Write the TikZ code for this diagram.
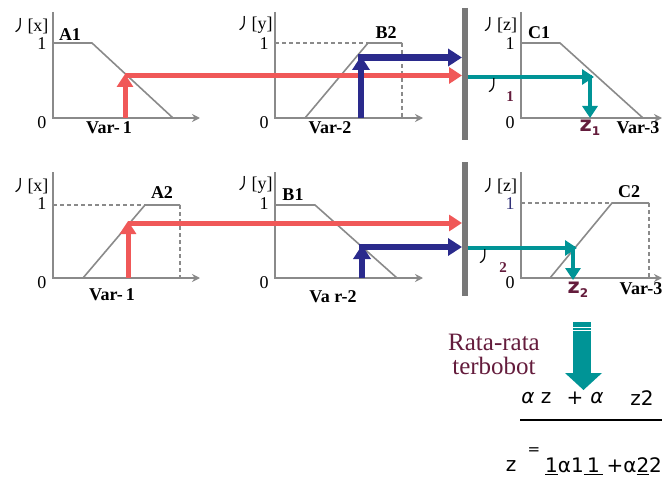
\documentclass[tikz,border=0pt]{standalone}
\usepackage{fontspec}
\setmainfont{Liberation Serif}
\newfontfamily\cjk{Noto Sans CJK SC}
\newfontfamily\sansf{DejaVu Sans}
\usetikzlibrary{arrows.meta}
\definecolor{axgray}{RGB}{138,138,138}
\definecolor{bargray}{RGB}{120,120,120}
\definecolor{redc}{RGB}{240,88,88}
\definecolor{bluec}{RGB}{42,42,140}
\definecolor{tealc}{RGB}{0,148,150}
\definecolor{maroon}{RGB}{100,28,60}
\definecolor{navyc}{RGB}{50,50,120}

\begin{document}
\begin{tikzpicture}[x=1pt,y=-1pt,
  axis/.style={draw=axgray,line width=2pt,-{Stealth[length=8pt,width=8pt]}},
  mf/.style={draw=axgray,line width=1.6pt},
  guide/.style={draw=axgray,line width=1.3pt,dash pattern=on 4pt off 3pt},
  lab/.style={inner sep=0pt,font=\fontsize{18}{20}\selectfont},
  setname/.style={inner sep=0pt,font=\fontsize{18}{20}\selectfont\bfseries},
  redarr/.style={draw=redc,line width=5pt,-{Triangle[length=13pt,width=16pt]}},
  bluearr/.style={draw=bluec,line width=6.5pt,-{Triangle[length=14pt,width=17pt]}},
  tealarr/.style={draw=tealc,line width=4pt,-{Triangle[length=12pt,width=15pt]}},
  outz/.style={inner sep=0pt,text=maroon,font=\fontsize{21}{22}\sansf\bfseries},
  formula/.style={inner sep=0pt,font=\fontsize{20}{22}\sansf}]
\useasboundingbox (0,0) rectangle (662,487);

% axes of the six graphs
\foreach \ox/\oy/\xe/\oc [count=\i] in {53/118/200/black,275/118/423/black,521/118/662/black,
    53/278/200/black,275/278/423/black,521/278/662/navyc}{
  \draw[axis] (\ox,\oy-106) -- (\ox,\oy) -- (\xe,\oy);
  \node[lab] (zero\i) at (\ox-11,\oy+5) {0};
  \node[lab,text=\oc] (one\i) at (\ox-11,\oy-74) {1};
}
\foreach \x/\y/\v [count=\i] in {30/26/x,254/25/y,499/25/z,30/186/x,254/185/y,499/186/z}
  \node[lab] (mu\i) at (\x,\y) {{\cjk\fontsize{16}{16}\selectfont 丿}[\v]};

% membership functions
\draw[mf] (53,43) -- (92,43) -- (173,118);
\draw[mf] (305,118) -- (368,43) -- (402,43);
\draw[guide] (275,43) -- (368,43) (402,43) -- (402,118);
\draw[mf] (521,43) -- (560,43) -- (643,118);
\draw[mf] (83,278) -- (145,205) -- (180,205);
\draw[guide] (53,205) -- (145,205) (180,205) -- (180,278);
\draw[mf] (275,205) -- (315,205) -- (397,278);
\draw[mf] (550,278) -- (612,203) -- (649,203);
\draw[guide] (521,203) -- (612,203) (649,203) -- (649,278);

\node[setname] (A1) at (70,35) {A1};
\node[setname] (B2) at (386,33) {B2};
\node[setname] (C1) at (539,33) {C1};
\node[setname] (A2) at (162,193) {A2};
\node[setname] (B1) at (293,195) {B1};
\node[setname] (C2) at (629,192) {C2};

\node[setname] (var1a) at (109,128) {Var-\,1};
\node[setname] (var2a) at (330,128) {Var-2};
\node[setname] (var3a) at (638,128) {Var-3};
\node[setname] (var1b) at (112,295) {Var-\,1};
\node[setname] (var2b) at (333,297) {Va r-2};
\node[setname] (var3b) at (641,289) {Var-3};

% implication bars
\draw[bargray,line width=6pt] (465,8) coordinate (barA) -- (465,140);
\draw[bargray,line width=6pt] (465,162) coordinate (barB) -- (465,296);

% rule 1
\coordinate (in1) at (125,118);
\coordinate (in2) at (361,118);
\draw[redarr] (in1) -- (125,74);
\draw[redarr] (125,75.5) -- (462,75.5);
\draw[bluearr] (in2) -- (361,56);
\draw[bluearr] (358,57.5) -- (462,57.5);
\draw[tealarr] (468,77) -- (594,77);
\draw[tealarr] (590,75) -- (590,118);
\node[lab] (al1) at (493,86) {\cjk\fontsize{16}{16}\selectfont 丿};
\node[lab,text=maroon,font=\fontsize{15}{15}\selectfont\bfseries] (al1n) at (510,97) {1};
\node[outz] (z1) at (590,128) {z\raisebox{-4pt}{\fontsize{12}{12}\selectfont 1}};

% rule 2
\coordinate (in3) at (128,278);
\coordinate (in4) at (362,278);
\draw[redarr] (in3) -- (128,221);
\draw[redarr] (128,223) -- (462,223);
\draw[bluearr] (in4) -- (362,245);
\draw[bluearr] (359,247) -- (462,247);
\draw[tealarr] (468,248) -- (577,248);
\draw[tealarr] (573,246) -- (573,280);
\node[lab] (al2) at (484,257) {\cjk\fontsize{16}{16}\selectfont 丿};
\node[lab,text=maroon,font=\fontsize{15}{15}\selectfont\bfseries] (al2n) at (503,268) {2};
\node[outz] (z2) at (578,290) {z\raisebox{-4pt}{\fontsize{12}{12}\selectfont 2}};

% weighted average
\node[lab,text=maroon,align=center,font=\fontsize{25}{24}\selectfont] (wavg) at (494,354)
  {Rata-rata\\terbobot};
\fill[tealc] (573,322) rectangle (591,373);
\fill[tealc] (565,373) -- (602,373) -- (583.5,390) -- cycle;
\draw[white,line width=0.7pt] (573,327) -- (591,327) (573,330.5) -- (591,330.5);
\node[formula,font=\fontsize{20}{22}\sansf\itshape] (a1) at (528,398) {α};
\node[formula] (za) at (546,398) {z};
\node[formula] (plus) at (575,398) {+};
\node[formula,font=\fontsize{20}{22}\sansf\itshape] (a2) at (597,398) {α};
\node[formula] (zb) at (642,398) {z2};
\draw[line width=1.3pt] (520,420) -- (662,420);
\node[formula] (zl) at (511,466) {z};
\node[formula,font=\fontsize{15}{15}\sansf] (eq) at (534,451) {=};
\node[formula,anchor=west] (den) at (545,466)
  {\underline{1}α1\underline{\,1\,}\,+α\underline{2}2};
\end{tikzpicture}
\end{document}
